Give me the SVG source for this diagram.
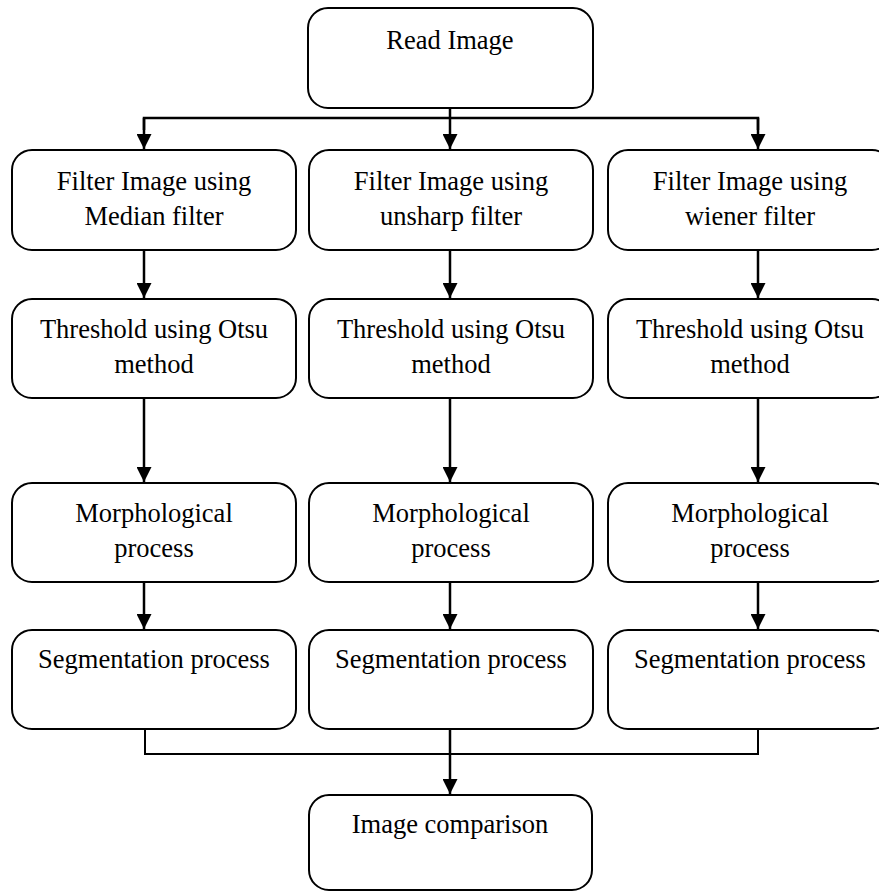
<svg xmlns="http://www.w3.org/2000/svg" width="879" height="892" viewBox="0 0 879 892">
<defs>
<style>
.box{fill:#fff;stroke:#000;stroke-width:2}
text{font-family:'Liberation Serif','DejaVu Serif',serif;font-size:26.5px;fill:#000;text-anchor:middle}
.c{fill:none;stroke:#000;stroke-width:2.5}
.l{fill:none;stroke:#000;stroke-width:2}
</style>
<marker id="ah" markerWidth="6" markerHeight="6" refX="6" refY="3" orient="auto" markerUnits="strokeWidth"><path d="M0,0 L6,3 L0,6 Z" fill="#000"/></marker>
</defs>
<rect width="879" height="892" fill="#fff"/>
<g id="connectors">
<line class="c" x1="450" y1="107" x2="450" y2="149" marker-end="url(#ah)"/>
<polyline class="c" points="144,130 144,118 758,118 758,130"/>
<line class="c" x1="144" y1="118" x2="144" y2="149" marker-end="url(#ah)"/>
<line class="c" x1="758" y1="118" x2="758" y2="149" marker-end="url(#ah)"/>
<line class="c" x1="144" y1="250" x2="144" y2="298" marker-end="url(#ah)"/>
<line class="c" x1="450" y1="250" x2="450" y2="298" marker-end="url(#ah)"/>
<line class="c" x1="758" y1="250" x2="758" y2="298" marker-end="url(#ah)"/>
<line class="c" x1="144" y1="398" x2="144" y2="482" marker-end="url(#ah)"/>
<line class="c" x1="450" y1="398" x2="450" y2="482" marker-end="url(#ah)"/>
<line class="c" x1="758" y1="398" x2="758" y2="482" marker-end="url(#ah)"/>
<line class="c" x1="144" y1="582" x2="144" y2="629" marker-end="url(#ah)"/>
<line class="c" x1="450" y1="582" x2="450" y2="629" marker-end="url(#ah)"/>
<line class="c" x1="758" y1="582" x2="758" y2="629" marker-end="url(#ah)"/>
<polyline class="l" points="145,729 145,754 758,754 758,729"/>
<line class="c" x1="450" y1="729" x2="450" y2="794" marker-end="url(#ah)"/>
</g>
<g id="read"><rect class="box" x="308" y="8" width="285" height="100" rx="20"/><text x="450" y="49">Read Image</text></g>
<g id="f1"><rect class="box" x="12" y="150" width="284" height="100" rx="20"/><text x="154" y="190">Filter Image using</text><text x="154" y="225">Median filter</text></g>
<g id="f2"><rect class="box" x="309" y="150" width="284" height="100" rx="20"/><text x="451" y="190">Filter Image using</text><text x="451" y="225">unsharp filter</text></g>
<g id="f3"><rect class="box" x="608" y="150" width="284" height="100" rx="20"/><text x="750" y="190">Filter Image using</text><text x="750" y="225">wiener filter</text></g>
<g id="t1"><rect class="box" x="12" y="299" width="284" height="99" rx="20"/><text x="154" y="338">Threshold using Otsu</text><text x="154" y="373">method</text></g>
<g id="t2"><rect class="box" x="309" y="299" width="284" height="99" rx="20"/><text x="451" y="338">Threshold using Otsu</text><text x="451" y="373">method</text></g>
<g id="t3"><rect class="box" x="608" y="299" width="284" height="99" rx="20"/><text x="750" y="338">Threshold using Otsu</text><text x="750" y="373">method</text></g>
<g id="m1"><rect class="box" x="12" y="483" width="284" height="99" rx="20"/><text x="154" y="522">Morphological</text><text x="154" y="557">process</text></g>
<g id="m2"><rect class="box" x="309" y="483" width="284" height="99" rx="20"/><text x="451" y="522">Morphological</text><text x="451" y="557">process</text></g>
<g id="m3"><rect class="box" x="608" y="483" width="284" height="99" rx="20"/><text x="750" y="522">Morphological</text><text x="750" y="557">process</text></g>
<g id="s1"><rect class="box" x="12" y="630" width="284" height="99" rx="20"/><text x="154" y="668">Segmentation process</text></g>
<g id="s2"><rect class="box" x="309" y="630" width="284" height="99" rx="20"/><text x="451" y="668">Segmentation process</text></g>
<g id="s3"><rect class="box" x="608" y="630" width="284" height="99" rx="20"/><text x="750" y="668">Segmentation process</text></g>
<g id="cmp"><rect class="box" x="309" y="795" width="283" height="95" rx="20"/><text x="450" y="833">Image comparison</text></g>
</svg>
